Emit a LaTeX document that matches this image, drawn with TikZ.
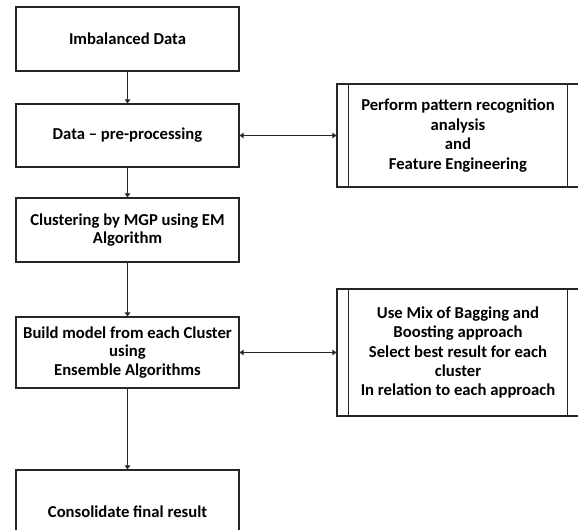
\documentclass[tikz,border=0pt]{standalone}
\usepackage{fontspec}
\setmainfont{Carlito}
\usetikzlibrary{arrows.meta}
\begin{document}
\begin{tikzpicture}[x=0.75pt,y=-0.75pt,
  box/.style={draw=black!85,line width=0.8pt,minimum width=223*0.75pt,align=center,
    font=\fontsize{12.5pt}{13.6pt}\selectfont\bfseries,inner sep=0pt},
  pbox/.style={draw=black!85,line width=0.8pt,minimum width=242*0.75pt,align=center,
    font=\fontsize{12.5pt}{14.6pt}\selectfont\bfseries,inner sep=0pt},
  flow/.style={draw=black!85,line width=0.8pt,-{Triangle[width=4pt,length=3pt]}},
  both/.style={draw=black!85,line width=0.8pt,{Triangle[width=4pt,length=3pt]}-{Triangle[width=4pt,length=3pt]}}]
\useasboundingbox (0,0) rectangle (578,530);
\begin{scope}
\clip (0,0) rectangle (578,530);
\node[box,minimum height=64*0.75pt] (b1) at (127.5,39) {Imbalanced Data};
\node[box,minimum height=63*0.75pt] (b2) at (127.5,135.5) {Data -- pre-processing};
\node[box,minimum height=64*0.75pt] (b3) at (127.5,230) {Clustering by MGP using EM\\Algorithm};
\node[box,minimum height=71*0.75pt] (b4) at (127.5,352.5) {Build model from each Cluster\\using\\Ensemble Algorithms};
\node[box,minimum height=84*0.75pt] (b5) at (127.5,512) {Consolidate final result};
\node[pbox,minimum height=103*0.75pt] (r1) at (458,135.5) {Perform pattern recognition\\analysis\\and\\Feature Engineering};
\node[pbox,minimum height=127*0.75pt] (r2) at (458,352.5) {Use Mix of Bagging and\\Boosting approach\\Select best result for each\\cluster\\In relation to each approach};
\foreach \r in {r1,r2}{
  \draw[draw=black!85,line width=0.8pt] ([xshift=9pt]\r.north west) -- ([xshift=9pt]\r.south west);
  \draw[draw=black!85,line width=0.8pt] ([xshift=-9pt]\r.north east) -- ([xshift=-9pt]\r.south east);
}
\end{scope}
\draw[flow] (b1) -- (b2);
\draw[flow] (b2) -- (b3);
\draw[flow] (b3) -- (b4);
\draw[flow] (b4) -- (b5);
\draw[both] (b2.east) -- (r1.west);
\draw[both] (b4.east) -- (r2.west);
\end{tikzpicture}
\end{document}
